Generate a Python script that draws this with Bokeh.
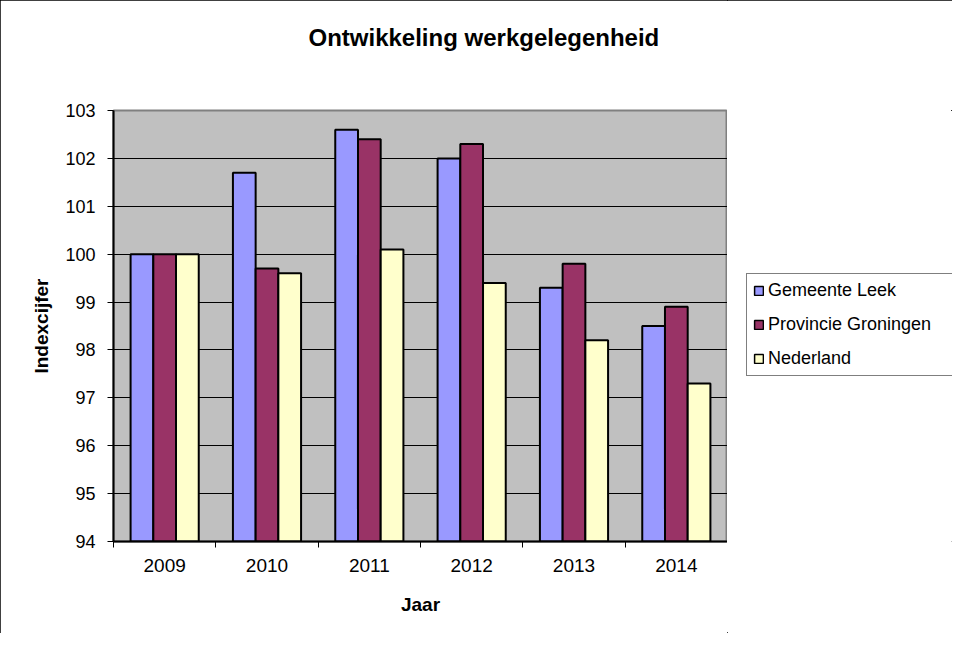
from bokeh.plotting import figure
from bokeh.models import Range1d, FixedTicker, Legend, LegendItem, ColumnDataSource, LinearAxis
from bokeh.layouts import row
from bokeh.embed import file_html
from bokeh.resources import INLINE

years = ["2009", "2010", "2011", "2012", "2013", "2014"]
series_names = ["Gemeente Leek", "Provincie Groningen", "Nederland"]
leek = [100.0, 101.7, 102.6, 102.0, 99.3, 98.5]
groningen = [100.0, 99.7, 102.4, 102.3, 99.8, 98.9]
nederland = [100.0, 99.6, 100.1, 99.4, 98.2, 97.3]
colors = ["#9999FF", "#993366", "#FFFFCC"]
y_ticks = [94, 95, 96, 97, 98, 99, 100, 101, 102, 103]
y_min, y_max = 94, 103

FONT = "Liberation Sans"

p = figure(frame_width=614, frame_height=431, output_backend="svg", toolbar_location=None,
           x_range=Range1d(0, len(years)), y_range=Range1d(y_min, y_max),
           min_border_left=113, min_border_right=0, min_border_top=110,
           min_border_bottom=92)

p.title.text = "Ontwikkeling werkgelegenheid"
p.title.align = "left"
p.title.offset = 195
p.title.text_font = FONT
p.title.text_font_size = "24px"
p.title.text_font_style = "bold"
p.title.text_color = "black"
p.title.standoff = 0

centers = [i + 0.5 for i in range(len(years))]

# X axis: labels at group centres, tick marks between groups
xa = p.below[0]
xa.ticker = FixedTicker(ticks=centers, minor_ticks=list(range(len(years) + 1)))
xa.major_label_overrides = {c: y for c, y in zip(centers, years)}
xa.major_tick_line_color = None
xa.major_tick_out = 0
xa.major_tick_in = 0
xa.minor_tick_line_color = "black"
xa.minor_tick_line_width = 1
xa.minor_tick_out = 6
xa.minor_tick_in = 0
xa.axis_line_color = "black"
xa.axis_line_width = 2
xa.major_label_text_font = FONT
xa.major_label_text_font_size = "19px"
xa.major_label_text_color = "black"
xa.major_label_standoff = 11
xa.axis_label = "Jaar"
xa.axis_label_text_font = FONT
xa.axis_label_text_font_size = "19px"
xa.axis_label_text_font_style = "bold"
xa.axis_label_text_color = "black"
xa.axis_label_standoff = 19

# invisible spacer axis between title and plot area
spacer = LinearAxis(ticker=FixedTicker(ticks=[len(years) / 2], minor_ticks=[]),
                    axis_line_color=None,
                    major_tick_line_color=None, minor_tick_line_color=None,
                    major_tick_out=60, major_tick_in=0, minor_tick_out=0,
                    major_label_standoff=0,
                    major_label_overrides={len(years) / 2: ""})
p.add_layout(spacer, "above")

p.background_fill_color = "#C0C0C0"
p.border_fill_color = "white"
p.outline_line_color = "#808080"
p.outline_line_width = 2

bar_w = 0.222
offsets = [-bar_w, 0.0, bar_w]
renderers = []
sources = []
for vals, off, col in zip([leek, groningen, nederland], offsets, colors):
    src = ColumnDataSource(dict(x=[c + off for c in centers], top=vals))
    sources.append(src)
    r = p.vbar(x="x", top="top", bottom=y_min, width=bar_w, source=src,
               fill_color=col, line_color="black", line_width=2)
    renderers.append(r)

# Y axis
ya = p.left[0]
ya.ticker = FixedTicker(ticks=y_ticks, minor_ticks=[])
ya.major_tick_out = 6
ya.major_tick_in = 0
ya.major_tick_line_color = "black"
ya.axis_line_color = "black"
ya.axis_line_width = 2
ya.major_label_text_font = FONT
ya.major_label_text_font_size = "18px"
ya.major_label_text_color = "black"
ya.major_label_standoff = 12
ya.axis_label = "Indexcijfer"
ya.axis_label_text_font = FONT
ya.axis_label_text_font_size = "19px"
ya.axis_label_text_font_style = "bold"
ya.axis_label_text_color = "black"
ya.axis_label_standoff = 10

p.xgrid.grid_line_color = None
p.ygrid.grid_line_color = "black"
p.ygrid.grid_line_width = 1.2

# legend panel to the right of the plot area (frames are aligned by the row)
pl = figure(width=225, height=633, output_backend="svg", toolbar_location=None,
            x_range=Range1d(-20, -19), y_range=Range1d(0, 1),
            x_axis_type=None, y_axis_type=None, min_border=0)
pl.outline_line_color = None
pl.grid.visible = False
pl.background_fill_color = "white"
pl.border_fill_color = "white"
leg_renderers = []
for src, col in zip(sources, colors):
    leg_renderers.append(pl.vbar(x="x", top="top", bottom=y_min, width=bar_w, source=src,
                                 fill_color=col, line_color="black", line_width=1.5))

legend = Legend(items=[LegendItem(label=n, renderers=[r]) for n, r in zip(series_names, leg_renderers)],
                location=(19, 165))
legend.border_line_color = "black"
legend.border_line_width = 1
legend.background_fill_color = "white"
legend.background_fill_alpha = 1
legend.label_text_font = FONT
legend.label_text_font_size = "18px"
legend.label_text_color = "black"
legend.glyph_width = 11
legend.glyph_height = 11
legend.label_standoff = 4
legend.label_width = 184
legend.padding = 6
legend.spacing = 13
legend.margin = 0
legend.label_height = 20
pl.add_layout(legend, "center")

layout = row(p, pl, spacing=0)
layout.styles = {"outline": "1px solid black", "outline-offset": "-1px"}

open("out.html", "w").write(file_html(layout, INLINE))
